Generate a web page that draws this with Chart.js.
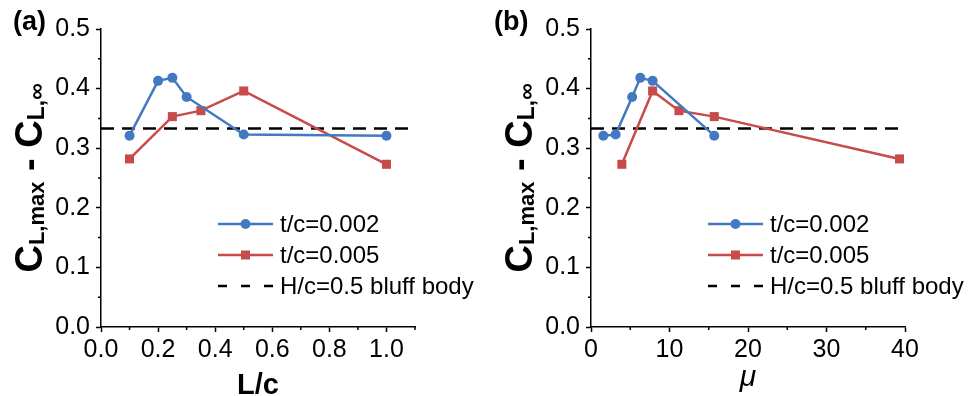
<!DOCTYPE html>
<html>
<head>
<meta charset="utf-8">
<script src="https://cdn.jsdelivr.net/npm/chart.js@4"></script>
<style>
  html, body { margin: 0; padding: 0; background: #fff; }
  #wrap { display: flex; width: 969px; height: 396px; }
  canvas { display: block; }
</style>
</head>
<body>
<div id="wrap">
  <canvas id="chartA" width="485" height="396"></canvas>
  <canvas id="chartB" width="484" height="396"></canvas>
</div>
<script>
// data
const lcBlue = [0.1, 0.2, 0.25, 0.3, 0.5, 1.0];
const clBlueA = [0.321, 0.413, 0.418, 0.386, 0.323, 0.321];
const lcRed = [0.1, 0.25, 0.35, 0.5, 1.0];
const clRedA = [0.282, 0.353, 0.363, 0.396, 0.273];

const muBlue = [1.57, 3.14, 5.24, 6.28, 7.85, 15.7];
const clBlueB = [0.321, 0.323, 0.386, 0.418, 0.413, 0.321];
const muRed = [3.93, 7.85, 11.2, 15.7, 39.3];
const clRedB = [0.273, 0.396, 0.363, 0.353, 0.282];

const bluffValue = 0.333;

const yTicks = [0, 0.1, 0.2, 0.3, 0.4, 0.5];
const yMinor = [0.05, 0.15, 0.25, 0.35, 0.45];
const xTicksA = [0, 0.2, 0.4, 0.6, 0.8, 1.0];
const xMinorA = [0.1, 0.3, 0.5, 0.7, 0.9, 1.1];
const xTicksB = [0, 10, 20, 30, 40];
const xMinorB = [5, 15, 25, 35];

const legendLabels = ['t/c=0.002', 't/c=0.005', 'H/c=0.5 bluff body'];

const BLUE = '#4279c2';
const RED = '#c84b4b';
const FONT = "'Liberation Sans', Arial, sans-serif";

function zip(xs, ys) {
  return xs.map((x, i) => ({ x: x, y: ys[i] }));
}

// draws minor ticks, axis titles, panel letter and the legend
function panelPlugin(opt) {
  return {
    id: 'panel',
    afterDraw(chart) {
      const ctx = chart.ctx;
      const a = chart.chartArea;
      const xs = chart.scales.x, ys = chart.scales.y;
      ctx.save();

      // minor ticks
      ctx.strokeStyle = '#000';
      ctx.lineWidth = 1.5;
      ctx.beginPath();
      opt.xMinor.forEach(v => {
        const px = xs.getPixelForValue(v);
        ctx.moveTo(px, a.bottom);
        ctx.lineTo(px, a.bottom + 3);
      });
      yMinor.forEach(v => {
        const py = ys.getPixelForValue(v);
        ctx.moveTo(a.left, py);
        ctx.lineTo(a.left - 3, py);
      });
      ctx.stroke();

      // panel letter
      ctx.fillStyle = '#000';
      ctx.font = 'bold 27px ' + FONT;
      ctx.textAlign = 'left';
      ctx.textBaseline = 'alphabetic';
      ctx.fillText(opt.letter, opt.letterX, 30);

      // x title
      ctx.textAlign = 'center';
      ctx.font = opt.xFont;
      ctx.fillText(opt.xTitle, (a.left + a.right) / 2, opt.xTitleY);

      // y title with subscripts, rotated
      const parts = [
        { t: 'C', f: 'bold 38px ' + FONT, dy: 0 },
        { t: 'L,max', f: 'bold 22px ' + FONT, dy: 2 },
        { t: ' - ', f: 'bold 38px ' + FONT, dy: 0 },
        { t: 'C', f: 'bold 38px ' + FONT, dy: 0 },
        { t: 'L,\u221e', f: 'bold 23px ' + FONT, dy: 2 }
      ];
      let total = 0;
      parts.forEach(p => { ctx.font = p.f; p.w = ctx.measureText(p.t).width; total += p.w; });
      ctx.translate(a.left - 59, (a.top + a.bottom) / 2);
      ctx.rotate(-Math.PI / 2);
      ctx.textAlign = 'left';
      let cx = -total / 2;
      parts.forEach(p => {
        ctx.font = p.f;
        ctx.fillText(p.t, cx, p.dy);
        cx += p.w;
      });
      ctx.setTransform(1, 0, 0, 1, 0, 0);

      // legend
      const lx = a.left + 117, len = 55, tx = a.left + 179;
      const rows = [224, 255, 286];
      ctx.font = '24px ' + FONT;
      ctx.textBaseline = 'middle';
      ctx.lineWidth = 2.5;
      // blue
      ctx.strokeStyle = BLUE; ctx.fillStyle = BLUE;
      ctx.beginPath(); ctx.moveTo(lx, rows[0]); ctx.lineTo(lx + len, rows[0]); ctx.stroke();
      ctx.beginPath(); ctx.arc(lx + len / 2, rows[0], 5, 0, Math.PI * 2); ctx.fill();
      // red
      ctx.strokeStyle = RED; ctx.fillStyle = RED;
      ctx.beginPath(); ctx.moveTo(lx, rows[1]); ctx.lineTo(lx + len, rows[1]); ctx.stroke();
      ctx.fillRect(lx + len / 2 - 4.5, rows[1] - 4.5, 9, 9);
      // dashed
      ctx.strokeStyle = '#000';
      ctx.setLineDash([9, 14]);
      ctx.beginPath(); ctx.moveTo(lx, rows[2]); ctx.lineTo(lx + len, rows[2]); ctx.stroke();
      ctx.setLineDash([]);
      ctx.fillStyle = '#000';
      legendLabels.forEach((s, i) => ctx.fillText(s, tx, rows[i] + 1));

      ctx.restore();
    }
  };
}

function makeChart(id, opt) {
  const xMin = opt.xMin, xMax = opt.xMax;
  return new Chart(document.getElementById(id), {
    type: 'line',
    data: {
      datasets: [
        {
          label: legendLabels[0],
          data: zip(opt.xBlue, opt.yBlue),
          borderColor: BLUE, backgroundColor: BLUE,
          borderWidth: 2.5, pointRadius: 5, pointStyle: 'circle',
          pointBorderWidth: 0, pointHoverRadius: 5, order: 1
        },
        {
          label: legendLabels[1],
          data: zip(opt.xRed, opt.yRed),
          borderColor: RED, backgroundColor: RED,
          borderWidth: 2.5, pointRadius: 6.4, pointStyle: 'rect',
          pointBorderWidth: 0, pointHoverRadius: 6.4, order: 2
        },
        {
          label: legendLabels[2],
          data: [{ x: xMin, y: bluffValue }, { x: xMax, y: bluffValue }],
          borderColor: '#000', borderWidth: 2.5, borderDash: [13, 8],
          pointRadius: 0, order: 3
        }
      ]
    },
    options: {
      responsive: false,
      animation: false,
      events: [],
      layout: { padding: { left: 0, top: 29, right: opt.padRight, bottom: 0 } },
      plugins: { legend: { display: false }, tooltip: { enabled: false } },
      scales: {
        x: {
          type: 'linear', min: xMin, max: xMax,
          afterBuildTicks: s => { s.ticks = opt.xTicks.map(v => ({ value: v })); },
          afterFit: s => { s.height = 69; s.paddingLeft = 0; s.paddingRight = 0; },
          ticks: {
            color: '#000', font: { family: FONT, size: 25 }, padding: 3,
            maxRotation: 0, autoSkip: false,
            callback: v => opt.xFmt(v)
          },
          grid: { drawOnChartArea: false, tickLength: 5, tickColor: '#000', tickWidth: 1.5 },
          border: { display: true, color: '#000', width: 1.5 }
        },
        y: {
          type: 'linear', min: 0, max: 0.5,
          afterBuildTicks: s => { s.ticks = yTicks.map(v => ({ value: v })); },
          afterFit: s => { s.width = opt.left; s.paddingTop = 0; s.paddingBottom = 0; },
          ticks: {
            color: '#000', font: { family: FONT, size: 25 }, padding: 6,
            autoSkip: false,
            callback: v => v.toFixed(1)
          },
          grid: { drawOnChartArea: false, tickLength: 5, tickColor: '#000', tickWidth: 1.5 },
          border: { display: true, color: '#000', width: 1.5 }
        }
      }
    },
    plugins: [panelPlugin(opt)]
  });
}

makeChart('chartA', {
  xBlue: lcBlue, yBlue: clBlueA, xRed: lcRed, yRed: clRedA,
  xMin: 0, xMax: 1.1, xTicks: xTicksA, xMinor: xMinorA,
  xFmt: v => v.toFixed(1),
  left: 101, padRight: 70,
  letter: '(a)', letterX: 13,
  xTitle: 'L/c', xFont: 'bold 29px ' + FONT, xTitleY: 394
});

makeChart('chartB', {
  xBlue: muBlue, yBlue: clBlueB, xRed: muRed, yRed: clRedB,
  xMin: 0, xMax: 40, xTicks: xTicksB, xMinor: xMinorB,
  xFmt: v => String(v),
  left: 106, padRight: 64,
  letter: '(b)', letterX: 9,
  xTitle: '\u03bc', xFont: 'italic 30px ' + FONT, xTitleY: 386
});
</script>
</body>
</html>
